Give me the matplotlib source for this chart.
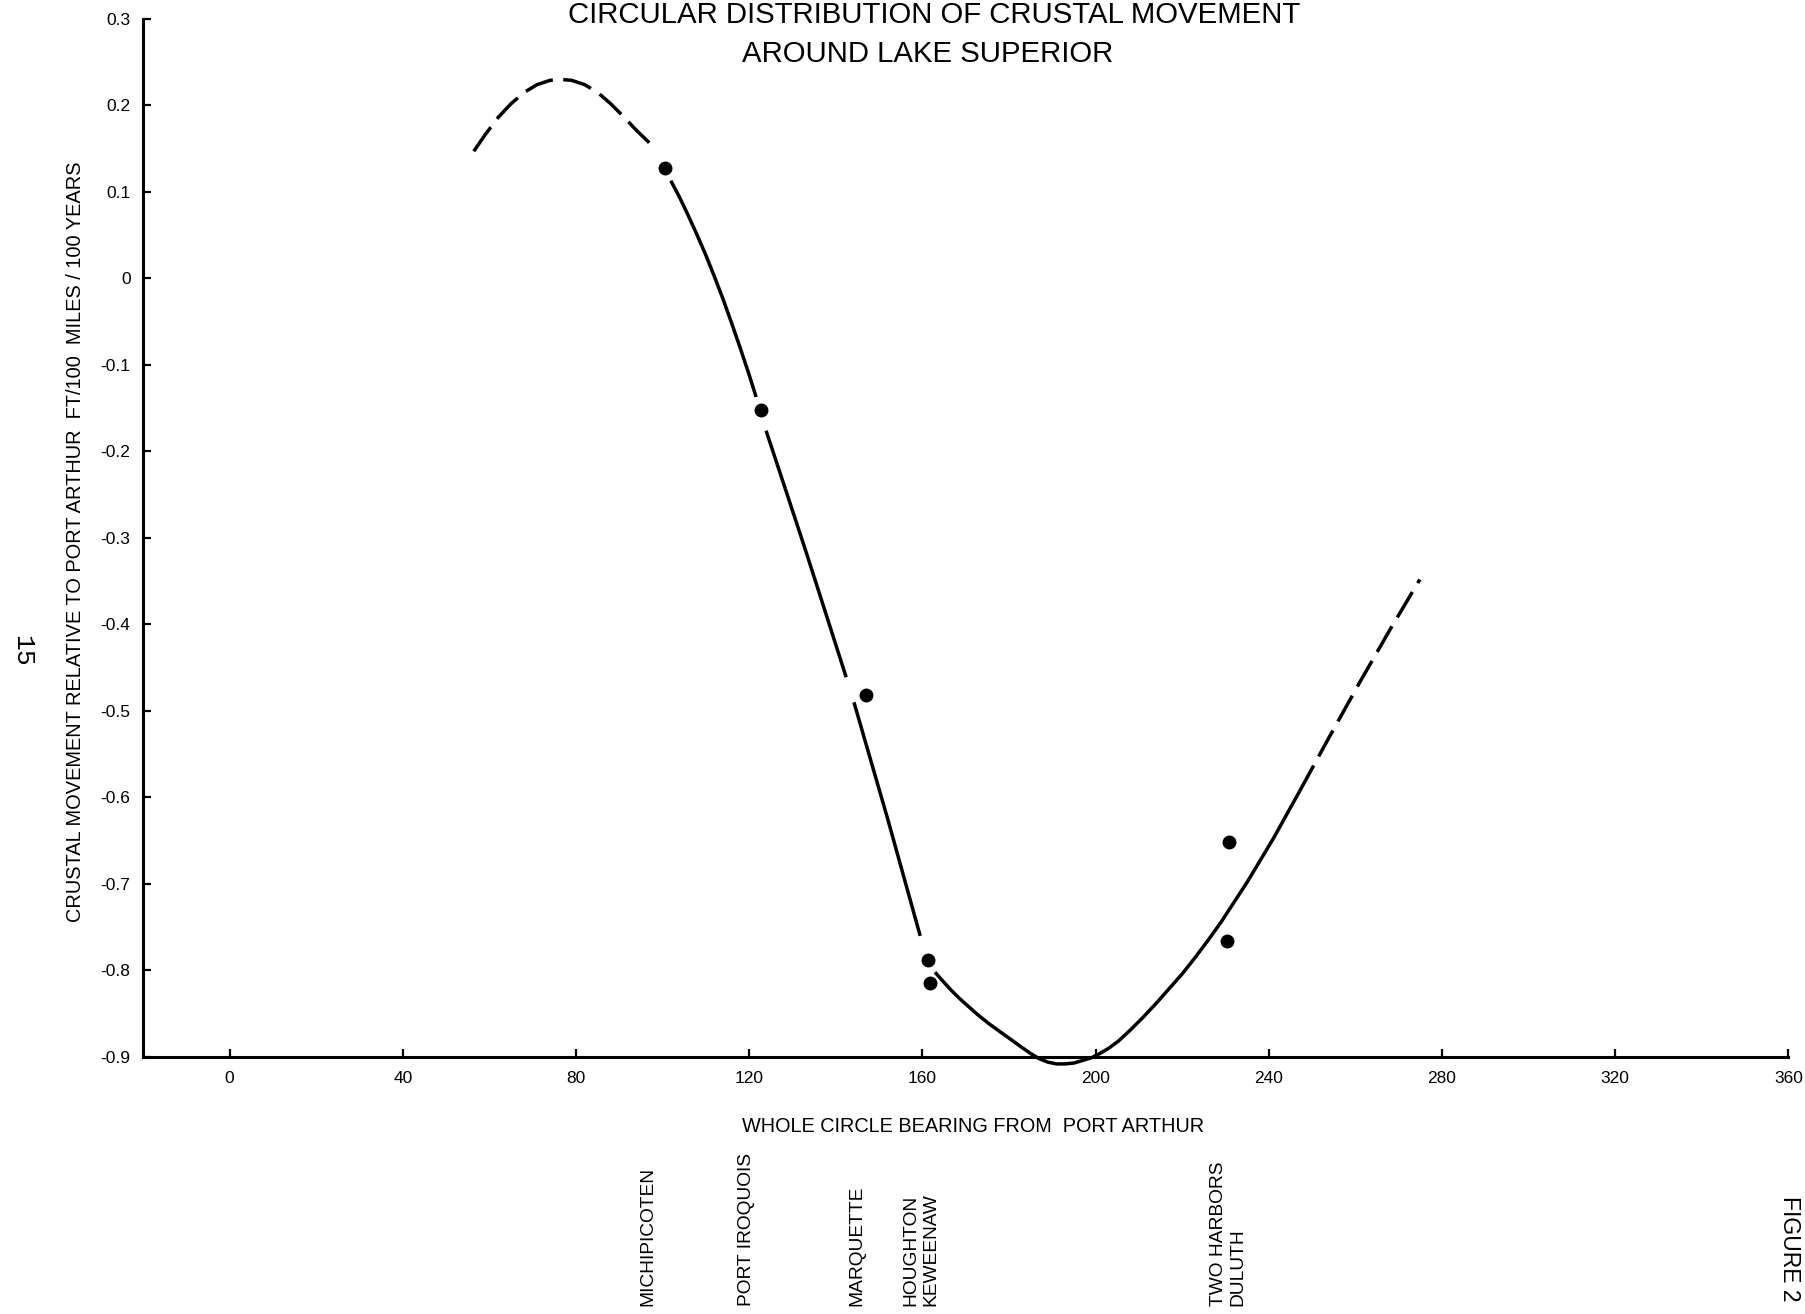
import numpy as np
import matplotlib
matplotlib.use("Agg")
import matplotlib.pyplot as plt

plt.rcParams['font.family'] = ['Liberation Sans', 'DejaVu Sans']

# stations (bearing from Port Arthur in degrees, movement ft/100 miles/100 yrs)
stations = ["MICHIPICOTEN", "PORT IROQUOIS", "MARQUETTE", "HOUGHTON", "KEWEENAW",
            "TWO HARBORS", "DULUTH"]
bearings = [100.5, 122.8, 146.9, 161.4, 161.8, 230.9, 230.3]
movement = [0.128, -0.152, -0.482, -0.788, -0.815, -0.652, -0.766]

# fitted curve
dash_left_x = [56.4, 59, 62, 65, 68, 71, 74, 76.6, 79, 82, 85, 88, 91, 94, 96.5, 98.2]
dash_left_y = [0.147, 0.166, 0.186, 0.202, 0.215, 0.224, 0.229, 0.230, 0.229, 0.224,
               0.215, 0.202, 0.187, 0.171, 0.159, 0.150]

solid1_x = [101.9, 103.9, 105.9, 107.9, 109.9, 111.9, 113.9, 115.9, 117.9, 119.9, 121.6]
solid1_y = [0.113, 0.094, 0.073, 0.051, 0.028, 0.003, -0.023, -0.051, -0.080, -0.110,
            -0.137]

solid2_x = [123.9, 128, 133, 138, 142.4]
solid2_y = [-0.176, -0.238, -0.314, -0.392, -0.461]

solid3_x = [144.2, 152, 159.5]
solid3_y = [-0.490, -0.625, -0.760]

solid4_x = [162.9, 164.5, 166.5, 168.5, 170.5, 173, 175.5, 178, 180.5, 183, 185, 187,
            189, 191, 193, 195, 197, 199, 201, 203, 205.2, 208, 211, 214, 217, 220,
            223, 226, 229, 232, 235, 238, 241, 244, 247.1]
solid4_y = [-0.802, -0.811, -0.822, -0.832, -0.841, -0.852, -0.862, -0.871, -0.880,
            -0.889, -0.896, -0.902, -0.906, -0.908, -0.908, -0.907, -0.904, -0.901,
            -0.896, -0.890, -0.882, -0.869, -0.854, -0.838, -0.821, -0.804, -0.785,
            -0.765, -0.744, -0.721, -0.698, -0.673, -0.648, -0.621, -0.593]

dash_right_x = [247.1, 254, 261, 268, 274.9]
dash_right_y = [-0.593, -0.530, -0.467, -0.406, -0.348]

xticks = [0, 40, 80, 120, 160, 200, 240, 280, 320, 360]
yticks = [0.3, 0.2, 0.1, 0, -0.1, -0.2, -0.3, -0.4, -0.5, -0.6, -0.7, -0.8, -0.9]
ytick_labels = ["0.3", "0.2", "0.1", "0", "-0.1", "-0.2", "-0.3", "-0.4", "-0.5",
                "-0.6", "-0.7", "-0.8", "-0.9"]

# station labels under the axis (grouped when two share a bearing)
label_groups = [[0], [1], [2], [3, 4], [5, 6]]
label_shift = [-12, -11, -6, -6, 0]   # points

fig = plt.figure(figsize=(18.06, 13.14), dpi=100)
ax = fig.add_axes([0.0792, 0.1956, 0.911, 0.790])

ax.set_xlim(-20, 360)
ax.set_ylim(-0.9, 0.3)

lw = 2.5
dash = [8.5, 3]
ax.plot(dash_left_x, dash_left_y, color='black', lw=lw, dashes=dash, clip_on=False)
for sx, sy in [(solid1_x, solid1_y), (solid2_x, solid2_y),
               (solid3_x, solid3_y), (solid4_x, solid4_y)]:
    ax.plot(sx, sy, color='black', lw=lw, solid_capstyle='butt',
            solid_joinstyle='round', clip_on=False)
ax.plot(dash_right_x, dash_right_y, color='black', lw=lw, dashes=dash, clip_on=False)

ax.plot(bearings, movement, 'o', color='black', markersize=9, clip_on=False)

for s in ['top', 'right']:
    ax.spines[s].set_visible(False)
for s in ['left', 'bottom']:
    ax.spines[s].set_linewidth(2.2)

ax.set_xticks(xticks)
ax.set_xticklabels([str(t) for t in xticks])
ax.set_yticks(yticks)
ax.set_yticklabels(ytick_labels)
ax.tick_params(axis='both', direction='in', length=6, width=1.6, labelsize=12.5)
ax.tick_params(axis='x', pad=10)
ax.tick_params(axis='y', pad=9)

fig.text(934 / 1806, 1 - 15 / 1314, "CIRCULAR DISTRIBUTION OF CRUSTAL MOVEMENT",
         ha='center', va='center', fontsize=21.2)
fig.text(928 / 1806, 1 - 54 / 1314, "AROUND LAKE SUPERIOR",
         ha='center', va='center', fontsize=21.2)

fig.text(76 / 1806, 1 - 542 / 1314,
         "CRUSTAL MOVEMENT RELATIVE TO PORT ARTHUR  FT/100  MILES / 100 YEARS",
         rotation=90, ha='center', va='center', fontsize=14.4)
fig.text(973 / 1806, 1 - 1126 / 1314, "WHOLE CIRCLE BEARING FROM  PORT ARTHUR",
         ha='center', va='center', fontsize=14.3)

for grp, dx in zip(label_groups, label_shift):
    txt = "\n".join(stations[i] for i in grp)
    bx = np.mean([bearings[i] for i in grp])
    ax.annotate(txt, xy=(bx, 0.006), xycoords=('data', 'figure fraction'),
                xytext=(dx, 0), textcoords='offset points',
                rotation=90, rotation_mode='anchor', ha='left', va='center',
                fontsize=13.8, linespacing=1.2, annotation_clip=False)

fig.text(22 / 1806, 1 - 651 / 1314, "15", rotation=-90, ha='center', va='center',
         fontsize=19, family=['Liberation Mono', 'DejaVu Sans Mono'])
fig.text(1790 / 1806, 1 - 1249 / 1314, "FIGURE 2", rotation=-90, ha='center',
         va='center', fontsize=16.5)

fig.savefig("out.png", dpi=100)
